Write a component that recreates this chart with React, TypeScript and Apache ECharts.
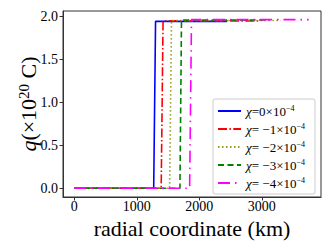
import React, { useEffect, useRef } from "react";
import * as echarts from "echarts";

const seriesNames = ["0", "−1", "−2", "−3", "−4"];
const colors = ["#0000ff", "#ff0000", "#9a9a1e", "#008000", "#ff00ff"];
const stepStart = [1270, 1390, 1525, 1690, 1845];
const stepEnd = [1300, 1420, 1555, 1715, 1875];
const plateau = [1.94, 1.945, 1.95, 1.955, 1.96];
const lineEnd = [2440, 2980, 3300, 3100, 3750];
const xTicks = [0, 1000, 2000, 3000];
const yTicks = [0, 0.5, 1.0, 1.5, 2.0];
const dashes: any[] = ["solid", [9, 2.4, 1.5, 2.4], [1.5, 2.5], [6, 3.5], [12, 5, 1.5, 5]];

export default function App() {
  const ref = useRef<HTMLDivElement>(null);
  useEffect(() => {
    const chart = echarts.init(ref.current!, null, { renderer: "svg" });
    const font = "'Liberation Serif', 'DejaVu Serif', serif";
    const series = seriesNames.map((n, i) => ({
      name: n,
      type: "line",
      symbol: "none",
      data: [
        [0, 0],
        [stepStart[i], 0],
        [stepEnd[i], plateau[i]],
        [lineEnd[i], plateau[i]],
      ],
      lineStyle: { color: colors[i], width: 1.6, type: dashes[i] },
      itemStyle: { color: colors[i] },
    }));
    chart.setOption({
      animation: false,
      textStyle: { fontFamily: font },
      grid: {
        left: 63,
        right: 11,
        top: 11,
        bottom: 52,
        show: true,
        borderColor: "#333",
        borderWidth: 1,
      },
      xAxis: {
        type: "value",
        min: -181,
        max: 3947,
        name: "radial coordinate (km)",
        nameLocation: "middle",
        nameGap: 22,
        nameMoveOverlap: false,
        nameTextStyle: { fontFamily: font, fontSize: 22, lineHeight: 18, color: "#000" },
        axisLine: { show: true, onZero: false, lineStyle: { color: "#333" } },
        axisTick: { show: true, length: 3.5, customValues: xTicks, lineStyle: { color: "#333" } },
        axisLabel: {
          customValues: xTicks,
          fontFamily: font,
          fontSize: 14,
          lineHeight: 13,
          color: "#000",
          margin: 3,
          formatter: (v: number) => String(Math.round(v)),
        },
        splitLine: { show: false },
      },
      yAxis: {
        type: "value",
        min: -0.101,
        max: 2.06,
        name: "{q|q}{t|(×10}{s|20}{t| C)}",
        nameLocation: "middle",
        nameRotate: 90,
        nameGap: 22,
        nameMoveOverlap: false,
        nameTextStyle: {
          fontFamily: font,
          fontSize: 22,
          color: "#000",
          rich: {
            q: { fontFamily: font, fontSize: 22, fontStyle: "italic", color: "#000" },
            t: { fontFamily: font, fontSize: 22, color: "#000" },
            s: { fontFamily: font, fontSize: 15, color: "#000", padding: [0, 0, 10, 0] },
          },
        },
        axisLine: { show: true, onZero: false, lineStyle: { color: "#333" } },
        axisTick: { show: true, length: 3.5, customValues: yTicks, lineStyle: { color: "#333" } },
        axisLabel: {
          customValues: yTicks,
          fontFamily: font,
          fontSize: 14,
          color: "#000",
          margin: 5,
          formatter: (v: number) => v.toFixed(1),
        },
        splitLine: { show: false },
      },
      legend: {
        orient: "vertical",
        left: 213,
        top: 99,
        padding: [5, 10, 4, 4],
        itemWidth: 23,
        itemHeight: 10,
        itemGap: 4,
        borderColor: "#ccc",
        borderWidth: 1,
        borderRadius: 2,
        backgroundColor: "#fff",
        itemStyle: { opacity: 0 },
        data: seriesNames,
        formatter: (n: string) => `{i|χ}{t|=${n === "0" ? "0" : " " + n}×10}{s|−4}`,
        textStyle: {
          fontFamily: font,
          fontSize: 13,
          color: "#000",
          lineHeight: 14,
          rich: {
            i: { fontFamily: font, fontSize: 13, fontStyle: "italic", color: "#000", lineHeight: 14 },
            t: { fontFamily: font, fontSize: 13, color: "#000", lineHeight: 14 },
            s: { fontFamily: font, fontSize: 8, color: "#000", lineHeight: 14, padding: [0, 0, 6, 0] },
          },
        },
      },
      series,
    });
    return () => chart.dispose();
  }, []);
  return <div ref={ref} style={{ width: 332, height: 249, position: "absolute", left: 0, top: 0 }} />;
}
